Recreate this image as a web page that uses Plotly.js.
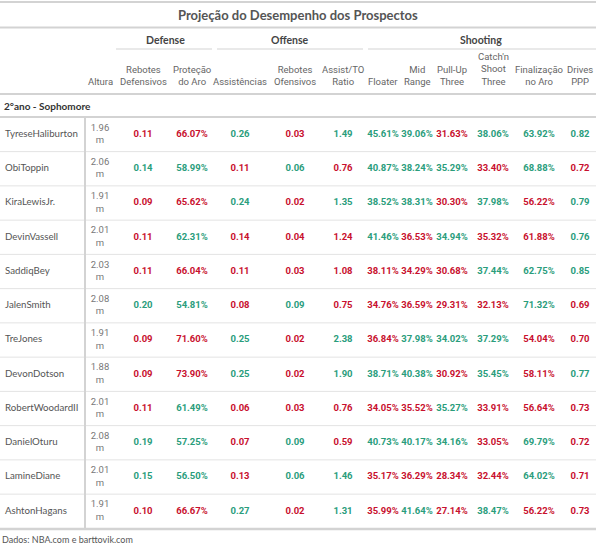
<!DOCTYPE html>
<html><head><meta charset="utf-8">
<script src="https://cdn.plot.ly/plotly-3.0.1.min.js"></script>
<style>html,body{margin:0;padding:0;background:#fff}</style>
</head><body>
<div id="chart" style="width:596px;height:546px"></div>
<script>
// ---- data ----
const titleText = "Projeção do Desempenho dos Prospectos";
const groupLabel = "2°ano - Sophomore";
const sourceNote = "Dados: NBA.com e barttovik.com";
const spanners = ["Defense", "Offense", "Shooting"];
const names = ["TyreseHaliburton","ObiToppin","KiraLewisJr.","DevinVassell","SaddiqBey","JalenSmith","TreJones","DevonDotson","RobertWoodardII","DanielOturu","LamineDiane","AshtonHagans"];
const altura = [1.96,2.06,1.91,2.01,2.03,2.08,1.91,1.88,2.01,2.08,2.01,1.91];
const rebDef = [0.11,0.14,0.09,0.11,0.11,0.20,0.09,0.09,0.11,0.19,0.15,0.10];
const protAro = [66.07,58.99,65.62,62.31,66.04,54.81,71.60,73.90,61.49,57.25,56.50,66.67];
const assist = [0.26,0.11,0.24,0.14,0.11,0.08,0.25,0.25,0.06,0.07,0.13,0.27];
const rebOf = [0.03,0.06,0.02,0.04,0.03,0.09,0.02,0.02,0.03,0.09,0.06,0.02];
const astTo = [1.49,0.76,1.35,1.24,1.08,0.75,2.38,1.90,0.76,0.59,1.46,1.31];
const floater = [45.61,40.87,38.52,41.46,38.11,34.76,36.84,38.71,34.05,40.73,35.17,35.99];
const midRange = [39.06,38.24,38.31,36.53,34.29,36.59,37.98,40.38,35.52,40.17,36.29,41.64];
const pullUp = [31.63,35.29,30.30,34.94,30.68,29.31,34.02,30.92,35.27,34.16,28.34,27.14];
const catchShoot = [38.06,33.40,37.98,35.32,37.44,32.13,37.29,35.45,33.91,33.05,32.44,38.47];
const finalizacao = [63.92,68.88,56.22,61.88,62.75,71.32,54.04,58.11,56.64,69.79,64.02,56.22];
const drivesPPP = [0.82,0.72,0.79,0.76,0.85,0.69,0.70,0.77,0.73,0.72,0.71,0.73];
const colLabels = ["Altura","Rebotes<br>Defensivos","Proteção<br>do Aro","Assistências","Rebotes<br>Ofensivos","Assist/TO<br>Ratio","Floater","Mid<br>Range","Pull-Up<br>Three","Catch'n<br>Shoot<br>Three","Finalização<br>no Aro","Drives<br>PPP"];

// ---- styling / layout config ----
const RED = "#c8102e", GREEN = "#2a9d7c";
const W = 596, H = 546;
const ROW0 = 134.5, ROWH = 34.25;           // pixel centre of first row, row height
const py = p => (p - ROW0) / ROWH;           // pixel -> y data units
const hdrFont = "Roboto, Arial";
const valFont = "Roboto, Arial";
const nameFont = "Lato, Open Sans, sans-serif";

// column layout: centre x (px), values, format, colour rule
const cols = [
  {x: 100, v: altura,      kind: "alt"},
  {x: 143, v: rebDef,      kind: "num", thr: 0.12, hi: true},
  {x: 192, v: protAro,     kind: "pct", thr: 64,   hi: false},
  {x: 240, v: assist,      kind: "num", thr: 0.20, hi: true},
  {x: 295, v: rebOf,       kind: "num", thr: 0.05, hi: true},
  {x: 343, v: astTo,       kind: "num", thr: 1.28, hi: true},
  {x: 383, v: floater,     kind: "pct", thr: 38.3, hi: true},
  {x: 417, v: midRange,    kind: "pct", thr: 37.3, hi: true},
  {x: 452, v: pullUp,      kind: "pct", thr: 33.0, hi: true},
  {x: 493, v: catchShoot,  kind: "pct", thr: 35.4, hi: true},
  {x: 539, v: finalizacao, kind: "pct", thr: 62.3, hi: true},
  {x: 580, v: drivesPPP,   kind: "num", thr: 0.745, hi: true}
];

const rows = names.map((_, i) => i);
const traces = [];
traces.push({
  type: "scatter", mode: "text", x: rows.map(() => 5), y: rows,
  text: names, textposition: "middle right",
  textfont: {family: nameFont, size: 9.7, color: "#555"}, hoverinfo: "skip"
});
cols.forEach(c => {
  let text, color, font;
  if (c.kind === "alt") {
    text = c.v.map(v => v.toFixed(2) + "<br>m");
    color = "#777"; font = {family: hdrFont, size: 9.5, color: color};
  } else {
    text = c.v.map(v => c.kind === "pct" ? v.toFixed(2) + "%" : v.toFixed(2));
    color = c.v.map(v => ((c.hi ? v > c.thr : v < c.thr) ? GREEN : RED));
    font = {family: valFont, size: 9.5, color: color, weight: 700};
  }
  traces.push({
    type: "scatter", mode: "text", x: rows.map(() => c.x), y: rows,
    text: text, textposition: "middle center", textfont: font, hoverinfo: "skip"
  });
});

const shapes = [];
const hline = (p, x0, x1, w, col) => shapes.push({type: "line", xref: "x", yref: "y",
  x0: x0, x1: x1, y0: py(p), y1: py(p), line: {color: col, width: w}});
hline(2, 0, W, 2, "#d3d3d3");
hline(27.5, 0, W, 2, "#d3d3d3");
hline(94, 0, W, 2, "#d3d3d3");
hline(117, 0, W, 2, "#d3d3d3");
// row separators
rows.slice(0, -1).forEach(i => {
  shapes.push({type: "line", xref: "x", yref: "y", x0: 0, x1: W, y0: i + 0.5, y1: i + 0.5,
    line: {color: "#e3e3e3", width: 1}});
});
hline(529, 0, W, 2.5, "#d3d3d3");
// stub vertical
shapes.push({type: "line", xref: "x", yref: "y", x0: 85, x1: 85, y0: py(117), y1: py(529),
  line: {color: "#d3d3d3", width: 2}});
// spanner underlines
const spanX = [[116, 212], [217, 363], [368, 596]];
spanX.forEach(s => hline(49, s[0], s[1], 1, "#d3d3d3"));

const annotations = [];
annotations.push({xref: "x", yref: "y", x: W / 2, y: py(15), text: "<b>" + titleText + "</b>",
  showarrow: false, xanchor: "center", yanchor: "middle",
  font: {family: "Lato, Open Sans, sans-serif", size: 13, color: "#555"}});
const spanCx = [165, 290, 481];
spanners.forEach((s, i) => annotations.push({xref: "x", yref: "y", x: spanCx[i], y: py(39.5),
  text: "<b>" + s + "</b>", showarrow: false, xanchor: "center", yanchor: "middle",
  font: {family: "Lato, Open Sans, sans-serif", size: 10.5, color: "#444"}}));
cols.forEach((c, i) => annotations.push({xref: "x", yref: "y", x: c.x, y: py(89),
  text: colLabels[i], showarrow: false, xanchor: "center", yanchor: "bottom", align: "center",
  font: {family: hdrFont, size: 9.5, color: "#666"}}));
annotations.push({xref: "x", yref: "y", x: 2, y: py(105.5), text: "<b>" + groupLabel + "</b>",
  showarrow: false, xanchor: "left", yanchor: "middle",
  font: {family: "Lato, Open Sans, sans-serif", size: 10, color: "#333"}});
annotations.push({xref: "x", yref: "y", x: 0, y: py(539), text: sourceNote,
  showarrow: false, xanchor: "left", yanchor: "middle",
  font: {family: "Lato, Open Sans, sans-serif", size: 9, color: "#555"}});

const layout = {
  width: W, height: H, margin: {l: 0, r: 0, t: 0, b: 0},
  paper_bgcolor: "#fff", plot_bgcolor: "#fff", showlegend: false,
  xaxis: {range: [0, W], visible: false, fixedrange: true},
  yaxis: {range: [py(H), py(0)], visible: false, fixedrange: true},
  shapes: shapes, annotations: annotations
};
Plotly.newPlot("chart", traces, layout, {displayModeBar: false, staticPlot: true});
</script>
</body></html>
